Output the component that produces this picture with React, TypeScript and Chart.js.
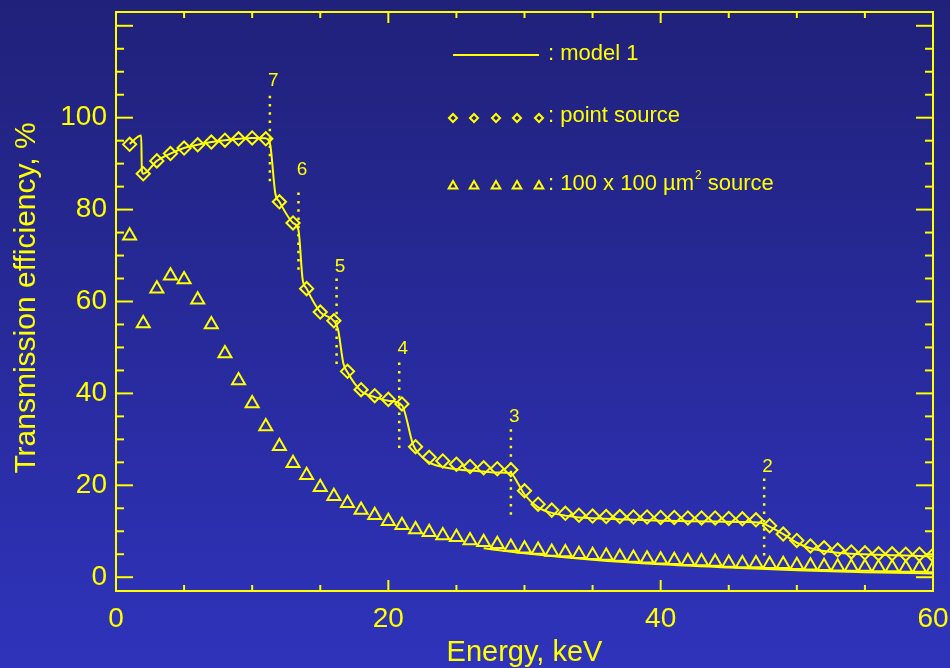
import React, { useEffect, useRef } from "react";
import { Chart, registerables } from "chart.js";

Chart.register(...registerables);

// ---------- data ----------
const energy = [
  1, 2, 3, 4, 5, 6, 7, 8, 9, 10, 11, 12, 13, 14, 15, 16, 17, 18, 19, 20,
  21, 22, 23, 24, 25, 26, 27, 28, 29, 30, 31, 32, 33, 34, 35, 36, 37, 38, 39, 40,
  41, 42, 43, 44, 45, 46, 47, 48, 49, 50, 51, 52, 53, 54, 55, 56, 57, 58, 59, 60,
];

const pointSource = [
  94.2, 87.8, 90.6, 92.2, 93.4, 94.1, 94.7, 95.1, 95.4, 95.6,
  95.4, 81.7, 77.1, 62.8, 57.7, 55.8, 44.8, 40.8, 39.5, 38.7,
  37.7, 28.4, 26.1, 25.3, 24.6, 24.1, 23.8, 23.6, 23.4, 18.8,
  15.9, 14.6, 13.9, 13.5, 13.3, 13.2, 13.2, 13.1, 13.1, 13.0,
  13.0, 12.9, 12.9, 12.9, 12.8, 12.7, 12.5, 11.2, 9.4, 8.0,
  6.8, 6.4, 5.9, 5.5, 5.3, 5.1, 5.1, 5.0, 5.0, 4.8,
];

const extendedSource = [
  74.3, 55.2, 62.8, 65.6, 64.8, 60.4, 55.0, 48.7, 42.8, 37.8,
  32.8, 28.5, 24.8, 22.2, 19.6, 17.6, 16.1, 14.6, 13.5, 12.2,
  11.3, 10.4, 9.8, 9.1, 8.7, 8.0, 7.6, 7.2, 6.6, 6.2,
  5.9, 5.5, 5.4, 5.0, 4.8, 4.6, 4.4, 4.2, 4.0, 3.8,
  3.7, 3.5, 3.4, 3.3, 3.1, 3.0, 3.0, 2.8, 2.8, 2.6,
  2.5, 2.4, 2.3, 2.2, 2.2, 2.1, 2.1, 2.0, 2.0, 1.9,
];

const model1E = [
  1, 1.85, 1.9, 2, 3, 4, 5, 6, 7, 8, 9, 10, 11, 11.3, 11.7, 12, 13, 13.4, 13.7, 14,
  15, 16, 16.3, 16.7, 17, 18, 19, 20, 21, 21.8, 22, 23, 24, 25, 26, 27, 28, 29, 29.5, 30,
  31, 32, 33, 34, 36, 38, 40, 42, 44, 46, 47.4, 48, 49, 50, 51, 52, 53, 54, 56, 58, 60,
];
const model1Y = [
  94.3, 96.1, 88.5, 87.8, 90.6, 92.2, 93.4, 94.1, 94.7, 95.1, 95.4, 95.6, 95.5, 94.5, 83.5, 81.7, 77.1, 75.5, 65.0, 62.8,
  57.7, 55.8, 54.0, 46.5, 44.6, 40.5, 39.2, 38.4, 37.4, 29.0, 27.8, 25.0, 24.0, 23.5, 23.2, 23.0, 22.8, 22.6, 20.5, 18.0,
  15.2, 14.0, 13.4, 13.0, 12.7, 12.5, 12.3, 12.2, 12.1, 12.0, 11.8, 11.0, 9.4, 7.5, 6.3, 5.7, 5.3, 5.1, 4.9, 4.7, 4.5,
];

const model2E = [27, 30, 35, 40, 45, 50, 55, 60];
const model2Y = [6.3, 5.2, 3.8, 2.8, 2.1, 1.5, 1.1, 0.8];

const edgeNames = ["7", "6", "5", "4", "3", "2"];
const edgeE = [11.3, 13.4, 16.2, 20.8, 29.0, 47.6];
const edgeTop = [104.8, 83.7, 65.0, 46.7, 32.2, 21.5];
const edgeBottom = [85.2, 66.3, 45.4, 27.6, 13.0, 3.7];
const edgeLabelY = [108.0, 88.7, 67.6, 49.8, 35.0, 24.1];

const xTickValues = [0, 20, 40, 60];
const yTickValues = [0, 20, 40, 60, 80, 100];

const legendLabels = [": model 1", ": point source", ": 100 x 100 \u00B5m", "2", " source"];
const xTitle = "Energy, keV";
const yTitle = "Transmission efficiency, %";

// ---------- style ----------
const YELLOW = "#ffff00";
const FONT = '"Liberation Sans", Arial, Helvetica, sans-serif';

function diamond(ctx: CanvasRenderingContext2D, x: number, y: number, r: number) {
  ctx.beginPath();
  ctx.moveTo(x - r, y);
  ctx.lineTo(x, y - r);
  ctx.lineTo(x + r, y);
  ctx.lineTo(x, y + r);
  ctx.closePath();
  ctx.stroke();
}
function triangle(ctx: CanvasRenderingContext2D, x: number, y: number, r: number) {
  ctx.beginPath();
  ctx.moveTo(x, y - r);
  ctx.lineTo(x + r * 0.866, y + r * 0.5);
  ctx.lineTo(x - r * 0.866, y + r * 0.5);
  ctx.closePath();
  ctx.stroke();
}

const decorPlugin = {
  id: "decor",
  beforeDraw(chart: any) {
    const { ctx, width, height } = chart;
    const g = ctx.createLinearGradient(0, 0, 0, height);
    g.addColorStop(0, "#20217a");
    g.addColorStop(1, "#2f33bb");
    ctx.save();
    ctx.fillStyle = g;
    ctx.fillRect(0, 0, width, height);
    ctx.restore();
  },
  afterDraw(chart: any) {
    const { ctx, chartArea: a, scales } = chart;
    const xs = scales.x;
    const ys = scales.y;
    ctx.save();
    ctx.strokeStyle = YELLOW;
    ctx.fillStyle = YELLOW;
    ctx.lineWidth = 2;
    ctx.lineCap = "butt";
    ctx.strokeRect(a.left, a.top, a.right - a.left, a.bottom - a.top);

    const seg = (x1: number, y1: number, x2: number, y2: number) => {
      ctx.beginPath();
      ctx.moveTo(x1, y1);
      ctx.lineTo(x2, y2);
      ctx.stroke();
    };
    for (let v = 0; v <= 60; v += 5) {
      const px = xs.getPixelForValue(v);
      const len = v % 20 === 0 ? 11 : 6;
      seg(px, a.bottom, px, a.bottom - len);
      seg(px, a.top, px, a.top + len);
    }
    for (let v = 0; v <= 120; v += 5) {
      const py = ys.getPixelForValue(v);
      const len = v % 20 === 0 ? 17 : 8;
      seg(a.left, py, a.left + len, py);
      seg(a.right, py, a.right - len, py);
    }

    // edge labels
    ctx.font = `19px ${FONT}`;
    ctx.textAlign = "center";
    ctx.textBaseline = "middle";
    edgeNames.forEach((n, i) => {
      ctx.fillText(n, xs.getPixelForValue(edgeE[i]) + 3.5, ys.getPixelForValue(edgeLabelY[i]));
    });

    // legend
    ctx.lineWidth = 2;
    seg(453, 55, 539, 55);
    const mx = [453, 474, 496, 517, 539];
    mx.forEach((x) => diamond(ctx, x, 118, 4));
    mx.forEach((x) => triangle(ctx, x, 186, 5));
    ctx.font = `22px ${FONT}`;
    ctx.textAlign = "left";
    ctx.textBaseline = "middle";
    ctx.fillText(legendLabels[0], 548, 54);
    ctx.fillText(legendLabels[1], 548, 116);
    ctx.fillText(legendLabels[2], 548, 184);
    const w2 = ctx.measureText(legendLabels[2]).width;
    ctx.font = `12px ${FONT}`;
    ctx.fillText(legendLabels[3], 548 + w2 + 1, 176);
    const w3 = ctx.measureText(legendLabels[3]).width;
    ctx.font = `22px ${FONT}`;
    ctx.fillText(legendLabels[4], 548 + w2 + 1 + w3, 184);

    // axis titles
    ctx.font = `29px ${FONT}`;
    ctx.textAlign = "center";
    ctx.textBaseline = "alphabetic";
    ctx.fillText(xTitle, (a.left + a.right) / 2, 661);
    ctx.save();
    ctx.font = `30px ${FONT}`;
    ctx.translate(35, 298);
    ctx.rotate(-Math.PI / 2);
    ctx.fillText(yTitle, 0, 0);
    ctx.restore();

    ctx.restore();
  },
};

export default function App() {
  const ref = useRef<HTMLCanvasElement>(null);
  useEffect(() => {
    document.body.style.margin = "0";
    const pts = (xs: number[], ys: number[]) => xs.map((x, i) => ({ x, y: ys[i] }));
    const edgeSets = edgeE.map((e, i) => ({
      label: "edge " + edgeNames[i],
      data: [
        { x: e, y: edgeTop[i] },
        { x: e, y: edgeBottom[i] },
      ],
      borderColor: YELLOW,
      borderWidth: 2.5,
      borderDash: [2.5, 5.8],
      pointRadius: 0,
      fill: false,
    }));
    const zeroPad = (s: any) => {
      s.paddingTop = 0;
      s.paddingBottom = 0;
      s.paddingLeft = 0;
      s.paddingRight = 0;
    };
    const chart = new Chart(ref.current as HTMLCanvasElement, {
      type: "line",
      data: {
        datasets: [
          {
            label: "model 1",
            data: pts(model1E, model1Y),
            borderColor: YELLOW,
            borderWidth: 2,
            pointRadius: 0,
            cubicInterpolationMode: "monotone",
            fill: false,
          },
          {
            label: "model extended",
            data: pts(model2E, model2Y),
            borderColor: YELLOW,
            borderWidth: 2,
            pointRadius: 0,
            cubicInterpolationMode: "monotone",
            fill: false,
          },
          {
            label: "point source",
            data: pts(energy, pointSource),
            showLine: false,
            pointStyle: "rectRot",
            pointRadius: 6.6,
            borderWidth: 2,
            borderColor: YELLOW,
            backgroundColor: "rgba(0,0,0,0)",
          },
          {
            label: "100 x 100 um2 source",
            data: pts(energy, extendedSource),
            showLine: false,
            pointStyle: "triangle",
            pointRadius: 7.5,
            borderWidth: 2,
            borderColor: YELLOW,
            backgroundColor: "rgba(0,0,0,0)",
          },
          ...edgeSets,
        ] as any,
      },
      options: {
        animation: false,
        responsive: false,
        maintainAspectRatio: false,
        layout: { padding: { top: 12, right: 17, left: 0, bottom: 0 } },
        plugins: { legend: { display: false }, tooltip: { enabled: false } },
        scales: {
          x: {
            type: "linear",
            min: 0,
            max: 60,
            afterBuildTicks: (s: any) => {
              s.ticks = xTickValues.map((v) => ({ value: v }));
            },
            afterFit: (s: any) => {
              s.height = 77;
              zeroPad(s);
            },
            ticks: {
              color: YELLOW,
              font: { family: FONT, size: 28 },
              padding: 11,
              maxRotation: 0,
              autoSkip: false,
              callback: (v: any) => String(v),
            },
            grid: { display: false, drawTicks: false },
            border: { display: false },
          },
          y: {
            type: "linear",
            min: -3,
            max: 123,
            afterBuildTicks: (s: any) => {
              s.ticks = yTickValues.map((v) => ({ value: v }));
            },
            afterFit: (s: any) => {
              s.width = 116;
              zeroPad(s);
            },
            ticks: {
              color: YELLOW,
              font: { family: FONT, size: 28 },
              padding: 9,
              autoSkip: false,
              callback: (v: any) => String(v),
            },
            grid: { display: false, drawTicks: false },
            border: { display: false },
          },
        },
      } as any,
      plugins: [decorPlugin],
    });
    return () => chart.destroy();
  }, []);
  return (
    <div style={{ width: 950, height: 668 }}>
      <canvas ref={ref} width={950} height={668} style={{ display: "block" }} />
    </div>
  );
}
